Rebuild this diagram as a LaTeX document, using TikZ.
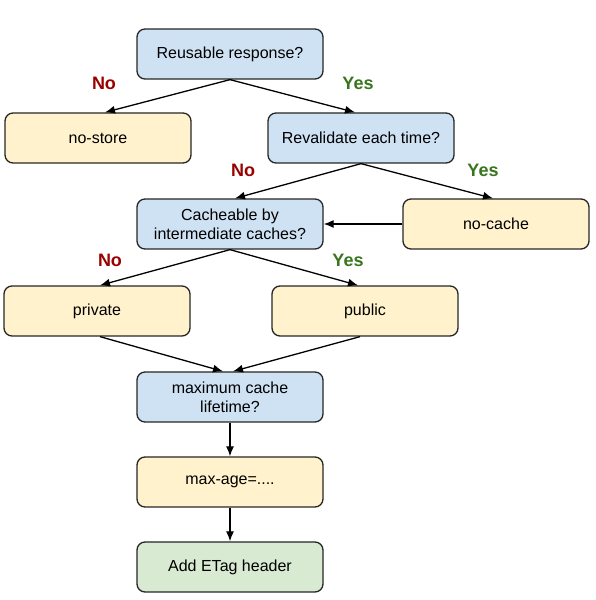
\documentclass[tikz,border=0pt]{standalone}
\usepackage{fontspec}
\setmainfont{Liberation Sans}
\usetikzlibrary{arrows.meta}
\definecolor{askblue}{HTML}{CFE2F3}
\definecolor{actyellow}{HTML}{FFF2CC}
\definecolor{fingreen}{HTML}{D9EAD3}
\definecolor{nored}{HTML}{990000}
\definecolor{yesgreen}{HTML}{38761D}
\begin{document}
\begin{tikzpicture}[x=1pt,y=1pt]
	\tikzset{box/.style={draw=black!85,line width=1.3pt,rounded corners=8pt,
	           minimum width=186pt,minimum height=50pt,inner sep=0pt,
	           align=center,font=\fontsize{16}{19}\selectfont},
	         ask/.style={box,fill=askblue},
	         act/.style={box,fill=actyellow},
	         fin/.style={box,fill=fingreen},
	         flow/.style={-{Latex[length=10pt,width=8pt]},line width=1.3pt},
	         nolab/.style={font=\bfseries\fontsize{18}{20}\selectfont,text=nored},
	         yeslab/.style={font=\bfseries\fontsize{18}{20}\selectfont,text=yesgreen}}
	\useasboundingbox (0,0) rectangle (595,600);
	\node[ask] (reuse) at (230,546) {Reusable response?};
	\node[act] (nostore) at (98,462) {no-store};
	\node[ask] (reval) at (361,462) {Revalidate each time?};
	\node[ask] (cacheq) at (230,376) {Cacheable by\\intermediate caches?};
	\node[act] (nocache) at (496,376) {no-cache};
	\node[act] (private) at (97,289) {private};
	\node[act] (public) at (365,289) {public};
	\node[ask] (maxq) at (230,203) {maximum cache\\lifetime?};
	\node[act] (maxage) at (230,118) {max-age=....};
	\node[fin] (etag) at (230,33) {Add ETag header};
	\node[nolab] (no1) at (104,517) {No};
	\node[yeslab] (yes1) at (358,517) {Yes};
	\node[nolab] (no2) at (243,430) {No};
	\node[yeslab] (yes2) at (483,430) {Yes};
	\node[nolab] (no3) at (110,340) {No};
	\node[yeslab] (yes3) at (348,340) {Yes};
	\draw[flow] (reuse.south) -- ([xshift=7pt]nostore.north);
	\draw[flow] (reuse.south) -- ([xshift=-6pt]reval.north);
	\draw[flow] (reval.south) -- ([xshift=5pt]cacheq.north);
	\draw[flow] (reval.south) -- ([xshift=-3pt]nocache.north);
	\draw[flow] (nocache.west) -- (cacheq.east);
	\draw[flow] (cacheq.south) -- ([xshift=3pt]private.north);
	\draw[flow] (cacheq.south) -- ([xshift=-7pt]public.north);
	\draw[flow] ([xshift=3pt]private.south) -- ([xshift=-7pt]maxq.north);
	\draw[flow] ([xshift=-5pt]public.south) -- ([xshift=3pt]maxq.north);
	\draw[flow] (maxq) -- (maxage);
	\draw[flow] (maxage) -- (etag);
\end{tikzpicture}
\end{document}
